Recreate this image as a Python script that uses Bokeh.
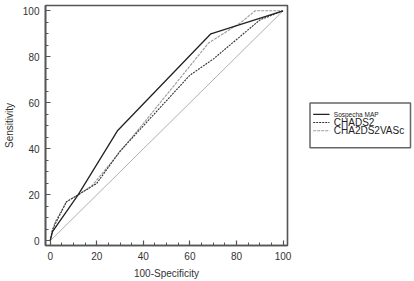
from bokeh.plotting import figure
from bokeh.models import Range1d, SingleIntervalTicker
from bokeh.layouts import row
from bokeh.core.properties import value
from bokeh.embed import file_html
from bokeh.resources import INLINE

# ROC data (100-Specificity, Sensitivity)
map_x = [0, 1, 12, 29, 69, 100]
map_y = [0, 4, 20, 48, 90, 100]

chads2_x = [0, 1, 7, 12, 20, 30, 60, 70, 90, 100]
chads2_y = [0, 5, 17, 20, 25, 39, 72, 79, 96, 100]

vasc_x = [0, 2, 7, 12, 18, 40, 60, 68, 82, 88, 100]
vasc_y = [0, 8, 17, 20, 24, 51, 76, 86, 95, 100, 100]

ref_x = [0, 100]
ref_y = [0, 100]

series_names = ["Sospecha MAP", "CHADS2", "CHA2DS2VASc"]

FONT = "Liberation Sans"
AXC = "#555555"
TOP, BOT = 5, 32

p = figure(width=300, height=281, output_backend="svg", toolbar_location=None,
           x_range=Range1d(-2, 101.9), y_range=Range1d(-2, 102.3),
           min_border_left=42, min_border_right=13, min_border_top=TOP, min_border_bottom=BOT)
p.xgrid.visible = False
p.ygrid.visible = False
p.outline_line_color = AXC
p.outline_line_width = 1.6

for ax in (p.xaxis[0], p.yaxis[0]):
    ax.ticker = SingleIntervalTicker(interval=20, num_minor_ticks=4)
    ax.major_tick_in = 5
    ax.major_tick_out = 0
    ax.minor_tick_in = 3
    ax.minor_tick_out = 0
    ax.axis_line_color = AXC
    ax.axis_line_width = 1.6
    ax.major_tick_line_color = AXC
    ax.minor_tick_line_color = AXC
    ax.major_tick_line_width = 1.2
    ax.minor_tick_line_width = 1
    ax.major_label_text_font = FONT
    ax.major_label_text_font_size = "10px"
    ax.major_label_text_color = "#333333"
    ax.major_label_standoff = 6
    ax.axis_label_text_font = FONT
    ax.axis_label_text_font_size = "10px"
    ax.axis_label_text_font_style = "normal"
    ax.axis_label_text_color = "#333333"
    ax.axis_label_standoff = 5

p.xaxis.axis_label = "100-Specificity"
p.yaxis.axis_label = "Sensitivity"

p.line(ref_x, ref_y, line_color="#b0b0b0", line_width=1)
p.line(vasc_x, vasc_y, line_color="#9a9a9a", line_width=1.1, line_dash="3 1")
p.line(chads2_x, chads2_y, line_color="#333333", line_width=1.1, line_dash="2 1")
p.line(map_x, map_y, line_color="#222222", line_width=1.3)

# Legend panel: a small figure whose data units are page pixels (x from left, y from top)
lg = figure(width=114, height=281, output_backend="svg", toolbar_location=None,
            x_range=Range1d(300, 414), y_range=Range1d(281 - BOT, TOP),
            min_border_left=0, min_border_right=0, min_border_top=TOP, min_border_bottom=BOT)
lg.axis.visible = False
lg.xgrid.visible = False
lg.ygrid.visible = False
lg.outline_line_color = None

lg.quad(left=[309.5], right=[410], top=[104], bottom=[149.5], fill_color=None,
        line_color="#666666", line_width=1.5)

row_y = [115.7, 124, 132.3]
styles = [dict(line_color="#222222", line_width=1.3),
          dict(line_color="#333333", line_width=1.1, line_dash="2 1"),
          dict(line_color="#9a9a9a", line_width=1.1, line_dash="3 1")]
sizes = ["6.5px", "10px", "10px"]
for name, yy, st, sz in zip(series_names, row_y, styles, sizes):
    lg.line([312.7, 329], [yy, yy], **st)
    lg.text([333.3], [yy], text=[name], text_font=value(FONT), text_font_size=sz,
            text_baseline="middle", text_align="left", text_color="#222222")

layout = row(p, lg)
open("out.html", "w").write(file_html(layout, INLINE))
